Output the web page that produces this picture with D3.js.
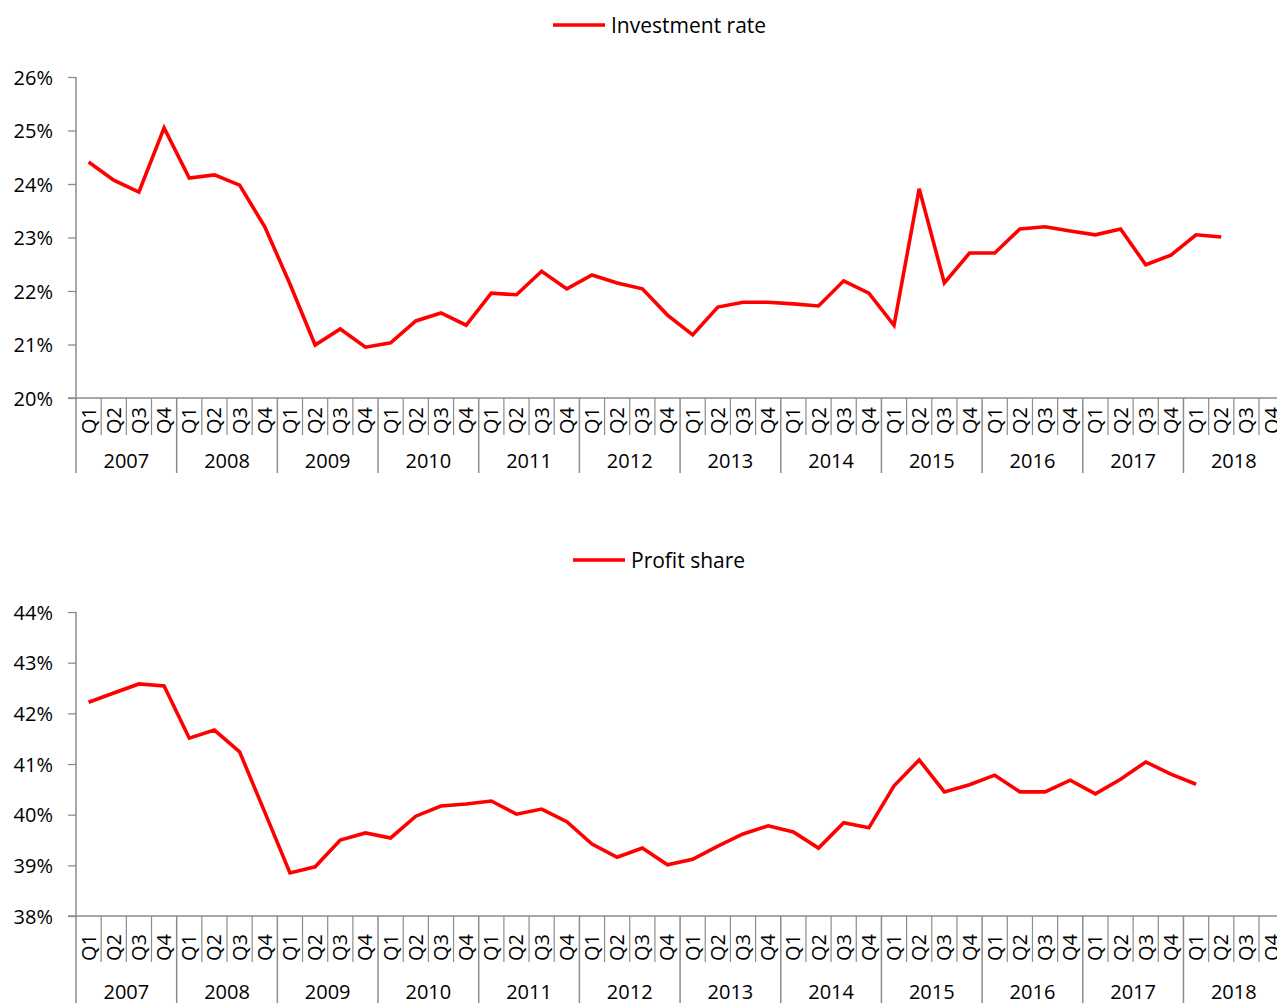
<!DOCTYPE html>
<html><head><meta charset="utf-8">
<script src="https://cdn.jsdelivr.net/npm/d3@7"></script>
<style>
body{margin:0;background:#fff;}
text{font-family:"Open Sans",Lato,sans-serif;fill:#000;}
</style></head>
<body>
<svg id="c" width="1277" height="1003"></svg>
<script>
const years = ["2007","2008","2009","2010","2011","2012","2013","2014","2015","2016","2017","2018"];
const quarters = ["Q1","Q2","Q3","Q4"];
const investmentRate = [24.41,24.07,23.85,25.05, 24.11,24.17,23.98,23.20, 22.13,20.99,21.29,20.95,
  21.03,21.44,21.59,21.36, 21.96,21.93,22.37,22.04, 22.30,22.15,22.04,21.55, 21.18,21.70,21.79,21.79,
  21.76,21.72,22.19,21.96, 21.36,23.91,22.15,22.71, 22.71,23.16,23.20,23.12, 23.05,23.16,22.49,22.67,
  23.05,23.01];
const profitShare = [42.22,42.40,42.58,42.54, 41.51,41.67,41.24,40.05, 38.85,38.97,39.50,39.64,
  39.54,39.97,40.17,40.21, 40.27,40.01,40.11,39.86, 39.42,39.16,39.34,39.01, 39.12,39.38,39.62,39.78,
  39.66,39.34,39.84,39.74, 40.57,41.08,40.45,40.59, 40.78,40.45,40.45,40.68, 40.41,40.70,41.04,40.80,
  40.60];
const invTicks = [20,21,22,23,24,25,26];
const profTicks = [38,39,40,41,42,43,44];

const svg = d3.select("#c");
const FONT = "\"Open Sans\",Lato,sans-serif";
const cats = [];
years.forEach(y => quarters.forEach(q => cats.push(y + "-" + q)));

function drawChart(cfg) {
  const g = svg.append("g");
  const x = d3.scaleBand().domain(cats).range([76, 76 + 48 * 25.17]).padding(0);
  const y = d3.scaleLinear().domain([cfg.ticks[0], cfg.ticks[cfg.ticks.length-1]]).range([cfg.yBottom, cfg.yTop]);
  const axisCol = "#8c8c8c";

  const ya = d3.axisLeft(y).tickValues(cfg.ticks).tickSize(8).tickPadding(15).tickFormat(d => d + "%");
  const yg = g.append("g").attr("transform", "translate(76,0)").call(ya);
  yg.select(".domain").remove();
  yg.selectAll(".tick line").attr("stroke", axisCol).attr("stroke-width", 1.3);
  yg.selectAll(".tick text").style("font-size", "20px").attr("fill", "#000")
    .style("font-family", FONT).attr("dy", "0.36em");
  g.append("line").attr("x1", 76).attr("x2", 76).attr("y1", cfg.yTop).attr("y2", cfg.yearEnd)
    .attr("stroke", axisCol).attr("stroke-width", 1.5);
  g.append("line").attr("x1", 68).attr("x2", 1277).attr("y1", cfg.yBottom).attr("y2", cfg.yBottom)
    .attr("stroke", axisCol).attr("stroke-width", 1.5);

  cats.forEach((c, i) => {
    if (i === 0) return;
    const xx = x(c);
    const isYear = i % 4 === 0;
    g.append("line").attr("x1", xx).attr("x2", xx).attr("y1", cfg.yBottom)
      .attr("y2", isYear ? cfg.yearEnd : cfg.qEnd)
      .attr("stroke", axisCol).attr("stroke-width", isYear ? 1.5 : 1.2);
  });
  cats.forEach(c => {
    const cx = x(c) + x.bandwidth() / 2;
    g.append("text").attr("transform", `translate(${cx + 7},${cfg.qEnd - 1}) rotate(-90)`)
      .attr("text-anchor", "start").style("font-size", "20px").text(c.split("-")[1]);
  });
  years.forEach(yr => {
    const cx = x(yr + "-Q1") + 2 * x.bandwidth();
    g.append("text").attr("x", cx).attr("y", cfg.yearY).attr("text-anchor", "middle")
      .attr("dy", "0.36em").style("font-size", "20px").text(yr);
  });

  const line = d3.line().x((d, i) => x(cats[i]) + x.bandwidth() / 2).y(d => y(d));
  g.append("path").datum(cfg.values).attr("d", line).attr("fill", "none")
    .attr("stroke", "#ff0000").attr("stroke-width", 3.6).attr("stroke-linejoin", "miter");

  g.append("line").attr("x1", cfg.legX).attr("x2", cfg.legX + 52).attr("y1", cfg.legY).attr("y2", cfg.legY)
    .attr("stroke", "#ff0000").attr("stroke-width", 3.6);
  g.append("text").attr("x", cfg.legX + 58).attr("y", cfg.legY).attr("dy", "0.36em")
    .style("font-size", "21px").text(cfg.name);
}

drawChart({values: investmentRate, ticks: invTicks, yTop: 77, yBottom: 398, qEnd: 435, yearEnd: 473,
  yearY: 461, legX: 553, legY: 25, name: "Investment rate"});
drawChart({values: profitShare, ticks: profTicks, yTop: 612, yBottom: 916, qEnd: 962, yearEnd: 1003,
  yearY: 992, legX: 573, legY: 560, name: "Profit share"});
</script>
</body></html>
